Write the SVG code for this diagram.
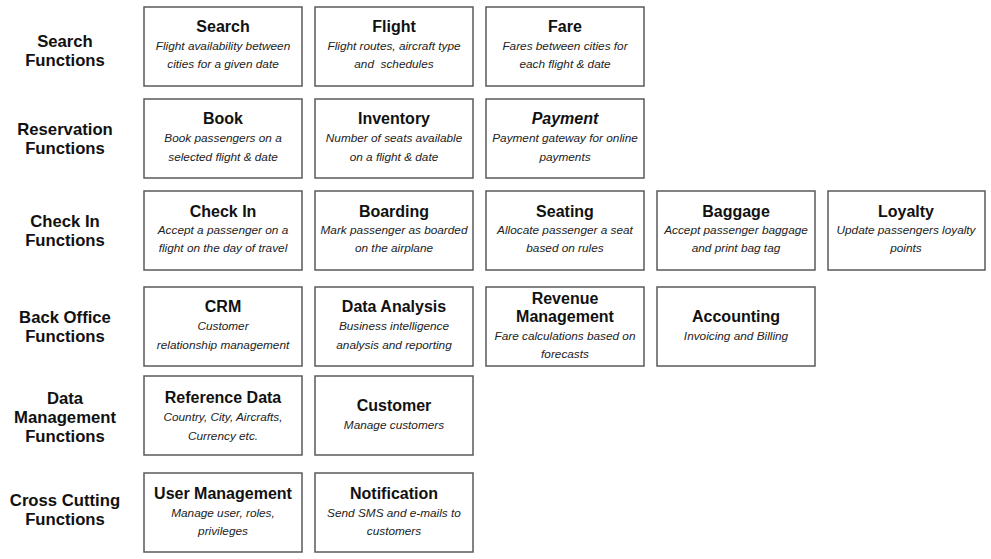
<svg xmlns="http://www.w3.org/2000/svg" width="991" height="559" viewBox="0 0 991 559">
<style>
.box{fill:#fff;stroke:#5a5a5a;stroke-width:1.5}
.t{font-family:"Liberation Sans",Arial,sans-serif;font-weight:bold;font-size:16px;fill:#111;text-anchor:middle}
.d{font-family:"Liberation Sans",Arial,sans-serif;font-style:italic;font-size:11.8px;fill:#222;text-anchor:middle}
.l{font-family:"Liberation Sans",Arial,sans-serif;font-weight:bold;font-size:16.7px;fill:#111;text-anchor:middle}
</style>
<rect width="991" height="559" fill="#fff"/>
<g id="labels">
<text class="l" x="65" y="47">Search</text><text class="l" x="65" y="66">Functions</text>
<text class="l" x="65" y="135">Reservation</text><text class="l" x="65" y="154">Functions</text>
<text class="l" x="65" y="227">Check In</text><text class="l" x="65" y="246">Functions</text>
<text class="l" x="65" y="323">Back Office</text><text class="l" x="65" y="342">Functions</text>
<text class="l" x="65" y="404">Data</text><text class="l" x="65" y="423">Management</text><text class="l" x="65" y="442">Functions</text>
<text class="l" x="65" y="506">Cross Cutting</text><text class="l" x="65" y="525">Functions</text>
</g>
<g id="search"><rect class="box" x="144" y="7" width="158" height="79"/><text class="t" x="223" y="32">Search</text><text class="d" x="223" y="50">Flight availability between</text><text class="d" x="223" y="68">cities for a given date</text></g>
<g id="flight"><rect class="box" x="315" y="7" width="158" height="79"/><text class="t" x="394" y="32">Flight</text><text class="d" x="394" y="50">Flight routes, aircraft type</text><text class="d" x="394" y="68" xml:space="preserve">and  schedules</text></g>
<g id="fare"><rect class="box" x="486" y="7" width="158" height="79"/><text class="t" x="565" y="32">Fare</text><text class="d" x="565" y="50">Fares between cities for</text><text class="d" x="565" y="68">each flight &amp; date</text></g>
<g id="book"><rect class="box" x="144" y="99" width="158" height="79"/><text class="t" x="223" y="124">Book</text><text class="d" x="223" y="142">Book passengers on a</text><text class="d" x="223" y="161">selected flight &amp; date</text></g>
<g id="inventory"><rect class="box" x="315" y="99" width="158" height="79"/><text class="t" x="394" y="124">Inventory</text><text class="d" x="394" y="142">Number of seats available</text><text class="d" x="394" y="161">on a flight &amp; date</text></g>
<g id="payment"><rect class="box" x="486" y="99" width="158" height="79"/><text class="t" x="565" y="124" font-style="italic">Payment</text><text class="d" x="565" y="142">Payment gateway for online</text><text class="d" x="565" y="161">payments</text></g>
<g id="checkin"><rect class="box" x="144" y="191" width="158" height="79"/><text class="t" x="223" y="217">Check In</text><text class="d" x="223" y="234">Accept a passenger on a</text><text class="d" x="223" y="252">flight on the day of travel</text></g>
<g id="boarding"><rect class="box" x="315" y="191" width="158" height="79"/><text class="t" x="394" y="217">Boarding</text><text class="d" x="394" y="234">Mark passenger as boarded</text><text class="d" x="394" y="252">on the airplane</text></g>
<g id="seating"><rect class="box" x="486" y="191" width="158" height="79"/><text class="t" x="565" y="217">Seating</text><text class="d" x="565" y="234">Allocate passenger a seat</text><text class="d" x="565" y="252">based on rules</text></g>
<g id="baggage"><rect class="box" x="657" y="191" width="158" height="79"/><text class="t" x="736" y="217">Baggage</text><text class="d" x="736" y="234">Accept passenger baggage</text><text class="d" x="736" y="252">and print bag tag</text></g>
<g id="loyalty"><rect class="box" x="828" y="191" width="157" height="79"/><text class="t" x="906" y="217">Loyalty</text><text class="d" x="906" y="234">Update passengers loyalty</text><text class="d" x="906" y="252">points</text></g>
<g id="crm"><rect class="box" x="144" y="287" width="158" height="79"/><text class="t" x="223" y="312">CRM</text><text class="d" x="223" y="330">Customer</text><text class="d" x="223" y="349">relationship management</text></g>
<g id="dataanalysis"><rect class="box" x="315" y="287" width="158" height="79"/><text class="t" x="394" y="312">Data Analysis</text><text class="d" x="394" y="330">Business intelligence</text><text class="d" x="394" y="349">analysis and reporting</text></g>
<g id="revenue"><rect class="box" x="486" y="287" width="158" height="79"/><text class="t" x="565" y="304">Revenue</text><text class="t" x="565" y="322">Management</text><text class="d" x="565" y="340">Fare calculations based on</text><text class="d" x="565" y="358">forecasts</text></g>
<g id="accounting"><rect class="box" x="657" y="287" width="158" height="79"/><text class="t" x="736" y="322">Accounting</text><text class="d" x="736" y="340">Invoicing and Billing</text></g>
<g id="refdata"><rect class="box" x="144" y="376" width="158" height="79"/><text class="t" x="223" y="403">Reference Data</text><text class="d" x="223" y="421">Country, City, Aircrafts,</text><text class="d" x="223" y="440">Currency etc.</text></g>
<g id="customer"><rect class="box" x="315" y="376" width="158" height="79"/><text class="t" x="394" y="411">Customer</text><text class="d" x="394" y="429">Manage customers</text></g>
<g id="usermgmt"><rect class="box" x="144" y="473" width="158" height="79"/><text class="t" x="223" y="499">User Management</text><text class="d" x="223" y="517">Manage user, roles,</text><text class="d" x="223" y="535">privileges</text></g>
<g id="notification"><rect class="box" x="315" y="473" width="158" height="79"/><text class="t" x="394" y="499">Notification</text><text class="d" x="394" y="517">Send SMS and e-mails to</text><text class="d" x="394" y="535">customers</text></g>
<g id="connectors"></g>
</svg>
